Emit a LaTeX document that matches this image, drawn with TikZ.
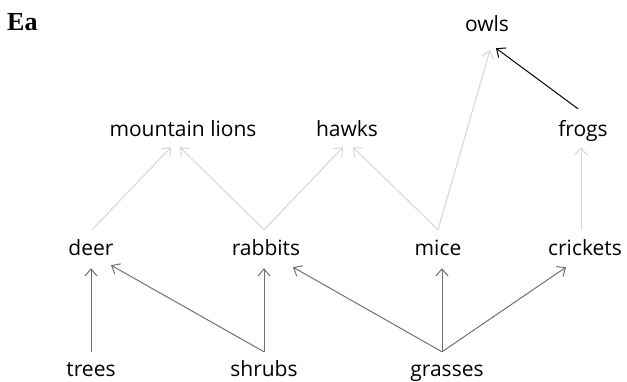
\documentclass[tikz,border=0pt]{standalone}
\usepackage{fontspec}
\setmainfont{Open Sans}
\newfontfamily\headfont{Liberation Serif}
\usetikzlibrary{arrows.meta}
\definecolor{edgelight}{RGB}{214,214,214}
\definecolor{edgedark}{RGB}{112,112,112}
\definecolor{edgeblack}{RGB}{0,0,0}
\begin{document}
\begin{tikzpicture}[x=1pt,y=-1pt,
  lbl/.style={font=\fontsize{21}{21}\selectfont, inner sep=0pt, text height=14pt, text depth=4pt, anchor=base},
  head/.style={font=\headfont\bfseries\fontsize{26}{26}\selectfont, inner sep=0pt, anchor=base west},
  edge/.style={line width=1pt, -{Straight Barb[length=7pt,width=12pt,line width=1pt]}},
  lt/.style={edge, draw=edgelight},
  dk/.style={edge, draw=edgedark},
  bk/.style={edge, draw=edgeblack}]
\useasboundingbox (0,0) rectangle (627,382);
\node[head] (title) at (7,31) {Ea};
\node[lbl] (owls) at (487,32) {owls};
\node[lbl] (mlions) at (183,137) {mountain lions};
\node[lbl] (hawks) at (347,137) {hawks};
\node[lbl] (frogs) at (583,137) {frogs};
\node[lbl] (deer) at (91,256) {deer};
\node[lbl] (rabbits) at (266,256) {rabbits};
\node[lbl] (mice) at (438,256) {mice};
\node[lbl] (crickets) at (585,256) {crickets};
\node[lbl] (trees) at (91,376) {trees};
\node[lbl] (shrubs) at (264,376) {shrubs};
\node[lbl] (grasses) at (447,376) {grasses};
% light grey
\draw[lt] ([xshift=1pt,yshift=12pt]deer.north) -- ([xshift=-12pt,yshift=-6pt]mlions.south);
\draw[lt] ([xshift=-2pt,yshift=12pt]rabbits.north) -- ([xshift=-3pt,yshift=-6pt]mlions.south);
\draw[lt] ([xshift=-2pt,yshift=12pt]rabbits.north) -- ([xshift=-4pt,yshift=-6pt]hawks.south);
\draw[lt] ([xshift=0pt,yshift=12pt]mice.north) -- ([xshift=6pt,yshift=-6pt]hawks.south);
\draw[lt] ([xshift=0pt,yshift=12pt]mice.north) -- ([xshift=3pt,yshift=-14pt]owls.south);
\draw[lt] ([xshift=-4pt,yshift=12pt]crickets.north) -- ([xshift=-2pt,yshift=-6pt]frogs.south);
% black
\draw[bk] ([xshift=-5pt,yshift=14pt]frogs.north) -- ([xshift=9pt,yshift=-12pt]owls.south);
% dark grey
\draw[dk] ([yshift=10pt]trees.north) -- ([yshift=-8pt]deer.south);
\draw[dk] ([yshift=10pt]shrubs.north) -- ([xshift=20pt,yshift=-5pt]deer.south);
\draw[dk] ([yshift=10pt]shrubs.north) -- ([xshift=-2pt,yshift=-8pt]rabbits.south);
\draw[dk] ([xshift=-5pt,yshift=10pt]grasses.north) -- ([xshift=27pt,yshift=-7pt]rabbits.south);
\draw[dk] ([xshift=-5pt,yshift=10pt]grasses.north) -- ([xshift=4pt,yshift=-8pt]mice.south);
\draw[dk] ([xshift=-5pt,yshift=10pt]grasses.north) -- ([xshift=-19pt,yshift=-7pt]crickets.south);
\end{tikzpicture}
\end{document}
